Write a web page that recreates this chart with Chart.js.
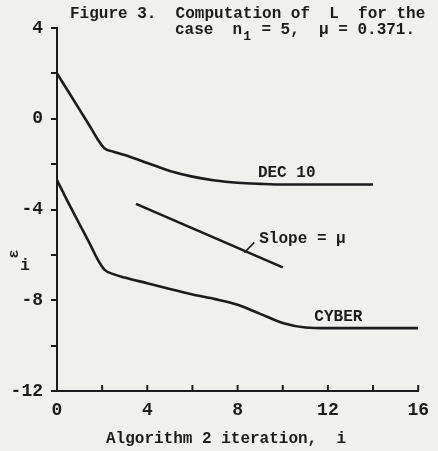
<!DOCTYPE html>
<html>
<head>
<meta charset="utf-8">
<script src="https://cdn.jsdelivr.net/npm/chart.js@4.4.1/dist/chart.umd.min.js"></script>
<style>
  body { margin: 0; background: #f0f0ed; }
  #wrap { width: 438px; height: 451px; }
</style>
</head>
<body>
<div id="wrap"><canvas id="fig3" width="438" height="451"></canvas></div>
<script>
// Data
const decX = [0, 0.5, 1, 1.5, 1.8, 2.1, 2.5, 3, 4, 4.5, 5, 6, 7, 8, 9, 10, 14];
const decY = [2.0, 1.2, 0.4, -0.4, -0.9, -1.3, -1.45, -1.6, -1.95, -2.13, -2.3, -2.55, -2.72, -2.82, -2.87, -2.9, -2.9];
const cyberX = [0, 0.5, 1, 1.5, 1.8, 2.1, 2.5, 3, 4, 5, 6, 7, 8, 9, 10, 11, 12, 16];
const cyberY = [-2.7, -3.7, -4.65, -5.6, -6.2, -6.65, -6.85, -7.0, -7.25, -7.5, -7.75, -7.95, -8.2, -8.6, -9.0, -9.2, -9.23, -9.23];
const slopeX = [3.5, 10];
const slopeY = [-3.75, -6.55];
const leaderX = [8.3, 8.74];
const leaderY = [-5.9, -5.45];

const xLabelValues = [0, 4, 8, 12, 16];
const yLabelValues = [4, 0, -4, -8, -12];

const ink = '#1c1c1c';
const mono = '"Liberation Mono", "DejaVu Sans Mono", monospace';

function pts(xs, ys) {
    return xs.map((x, i) => ({ x: x, y: ys[i] }));
}

function lineSet(label, xs, ys) {
    return {
        label: label,
        data: pts(xs, ys),
        borderColor: ink,
        borderWidth: 2.6,
        pointRadius: 0,
        fill: false,
        cubicInterpolationMode: 'monotone'
    };
}

// Title, curve labels, upward x ticks and the y-axis symbol
const annotations = {
    id: 'annotations',
    afterDraw(chart) {
        const ctx = chart.ctx;
        const xs = chart.scales.x;
        const ys = chart.scales.y;
        ctx.save();
        ctx.fillStyle = ink;
        ctx.strokeStyle = ink;

        // x tick marks point up into the plot
        ctx.lineWidth = 2;
        for (let v = 0; v <= 16; v += 2) {
            const px = xs.getPixelForValue(v);
            ctx.beginPath();
            ctx.moveTo(px, ys.bottom);
            ctx.lineTo(px, ys.bottom - 6);
            ctx.stroke();
        }

        ctx.font = 'bold 16px ' + mono;
        ctx.textBaseline = 'middle';
        ctx.textAlign = 'left';
        ctx.fillText('DEC 10', xs.getPixelForValue(8.9), ys.getPixelForValue(-2.37));
        ctx.fillText('CYBER', xs.getPixelForValue(11.4), ys.getPixelForValue(-8.75));
        ctx.fillText('Slope = \u03bc', xs.getPixelForValue(8.96), ys.getPixelForValue(-5.3));

        // title
        ctx.textBaseline = 'alphabetic';
        ctx.fillText('Figure 3.  Computation of  L  for the', 70, 18);
        const line2a = 'case  n';
        ctx.fillText(line2a, 175, 34);
        const cw = ctx.measureText('n').width;
        const xa = 175 + ctx.measureText(line2a).width;
        ctx.font = 'bold 13px ' + mono;
        ctx.fillText('1', xa + 1, 40);
        ctx.font = 'bold 16px ' + mono;
        ctx.fillText(' = 5,  \u03bc = 0.371.', xa + cw, 34);

        // axis titles
        ctx.textAlign = 'center';
        ctx.fillText('Algorithm 2 iteration,  i', 226, 443);

        ctx.save();
        ctx.translate(14, 254);
        ctx.rotate(-Math.PI / 2);
        ctx.font = 'bold 15px ' + mono;
        ctx.textBaseline = 'middle';
        ctx.fillText('\u03b5', 0, 0);
        ctx.restore();
        ctx.font = 'bold 16px ' + mono;
        ctx.textBaseline = 'middle';
        ctx.fillText('i', 25, 266);

        ctx.restore();
    }
};

const chart = new Chart(document.getElementById('fig3').getContext('2d'), {
    type: 'line',
    data: {
        datasets: [
            lineSet('DEC 10', decX, decY),
            lineSet('CYBER', cyberX, cyberY),
            lineSet('Slope', slopeX, slopeY),
            Object.assign(lineSet('leader', leaderX, leaderY), { borderWidth: 1.5 })
        ]
    },
    options: {
        responsive: false,
        animation: false,
        devicePixelRatio: 1,
        layout: { padding: { top: 28, right: 13, left: 0, bottom: 0 } },
        plugins: {
            legend: { display: false },
            tooltip: { enabled: false }
        },
        scales: {
            x: {
                type: 'linear',
                min: 0,
                max: 16,
                afterFit(scale) { scale.height = 60; },
                grid: { drawOnChartArea: false, drawTicks: false },
                border: { display: true, color: ink, width: 2 },
                ticks: {
                    stepSize: 2,
                    padding: 9,
                    maxRotation: 0,
                    autoSkip: false,
                    color: ink,
                    font: { family: mono, size: 18, weight: 'bold' },
                    callback: v => xLabelValues.includes(v) ? String(v) : ''
                }
            },
            y: {
                min: -12,
                max: 4,
                afterFit(scale) { scale.width = 57; },
                grid: { drawOnChartArea: false, drawTicks: true, tickLength: 6, color: ink, lineWidth: 2 },
                border: { display: true, color: ink, width: 2 },
                ticks: {
                    stepSize: 2,
                    padding: 8,
                    autoSkip: false,
                    color: ink,
                    font: { family: mono, size: 18, weight: 'bold' },
                    callback: v => yLabelValues.includes(v) ? String(v) : ''
                }
            }
        }
    },
    plugins: [annotations]
});
</script>
</body>
</html>
